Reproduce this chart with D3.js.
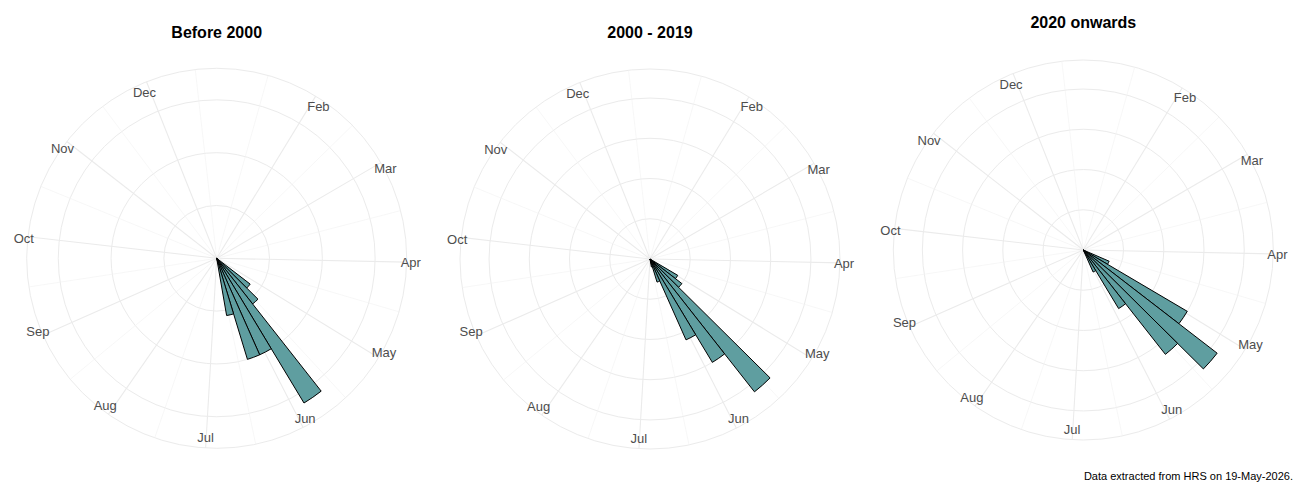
<!DOCTYPE html>
<html><head><meta charset="utf-8">
<script src="https://cdn.jsdelivr.net/npm/d3@7"></script>
<style>body{margin:0;background:#fff;font-family:"Liberation Sans",Arial,sans-serif}</style>
</head><body><svg id="c" width="1300" height="500"></svg>
<script>
const monthLabels=["Feb","Mar","Apr","May","Jun","Jul","Aug","Sep","Oct","Nov","Dec"];
const monthDays=[32,60,91,121,152,182,213,244,274,305,335];
const minorDays=[16.5,46,75.5,106,136.5,167,197.5,228.5,259,289.5,320,350];
const panelTitles=["Before 2000","2000 - 2019","2020 onwards"];
const binStarts1=[127,134,141,148,155,162];
const counts1=[8,11,32,20,20,11];
const binStarts2=[120,127,134,141,148,155,162];
const counts2=[4,5,21,15,11,3,1];
const binStarts3=[113,120,127,134,141,148];
const counts3=[7,30,42,33,17,6];
const ringBreaks1=[10,20,30];
const ringBreaks2=[5,10,15,20];
const ringBreaks3=[10,20,30,40];
const binWidth=7;

const panels=[
 {title:panelTitles[0],starts:binStarts1,counts:counts1,rings:ringBreaks1,cx:216.7,cy:258.3,ty:38},
 {title:panelTitles[1],starts:binStarts2,counts:counts2,rings:ringBreaks2,cx:650,cy:259,ty:38},
 {title:panelTitles[2],starts:binStarts3,counts:counts3,rings:ringBreaks3,cx:1083.3,cy:250,ty:28}
];
const svg=d3.select("#c");
const R=190, Rdata=169;
const ang=d3.scaleLinear().domain([1,356.4]).range([0,2*Math.PI]);
panels.forEach(p=>{
 const g=svg.append("g").attr("transform",`translate(${p.cx},${p.cy})`);
 const r=d3.scaleLinear().domain([0,d3.max(p.counts)]).range([0,Rdata]);
 // rings
 p.rings.concat([r.invert(R)]).forEach(v=>{
  g.append("circle").attr("r",r(v)).attr("fill","none").attr("stroke","#ebebeb").attr("stroke-width",1);
 });
 minorDays.forEach(d=>{const a=ang(d);
  g.append("line").attr("x1",0).attr("y1",0).attr("x2",R*Math.sin(a)).attr("y2",-R*Math.cos(a))
   .attr("stroke","#f2f2f2").attr("stroke-width",0.6);});
 monthDays.forEach(d=>{const a=ang(d);
  g.append("line").attr("x1",0).attr("y1",0).attr("x2",R*Math.sin(a)).attr("y2",-R*Math.cos(a))
   .attr("stroke","#ebebeb").attr("stroke-width",1.1);});
 // bars
 const arc=d3.arc().innerRadius(0);
 p.starts.forEach((s,i)=>{
  g.append("path").attr("d",arc({startAngle:ang(s),endAngle:ang(s+binWidth),outerRadius:r(p.counts[i])}))
   .attr("fill","#5F9EA0").attr("stroke","#000").attr("stroke-width",1);
 });
 // labels
 monthDays.forEach((d,i)=>{const a=ang(d);const rl=184;
  const t=g.append("text").text(monthLabels[i]).attr("font-size",13).attr("fill","#4d4d4d");
  const w=t.node().getComputedTextLength();const h=10;
  const hj=0.5-Math.sin(a)/2, vj=0.5-Math.cos(a)/2;
  t.attr("x",rl*Math.sin(a)-w*hj).attr("y",-rl*Math.cos(a)+h*(1-vj));
 });
 svg.append("text").attr("x",p.cx).attr("y",p.ty).attr("text-anchor","middle")
  .attr("font-size",16).attr("font-weight","bold").text(p.title);
});
svg.append("text").attr("x",1293).attr("y",480).attr("text-anchor","end").attr("font-size",11)
 .text("Data extracted from HRS on 19-May-2026.");
</script></body></html>
